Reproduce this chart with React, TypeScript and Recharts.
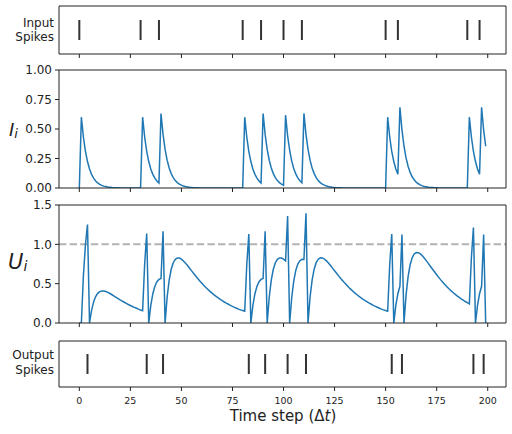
import React from "react";
import {
	LineChart,
	Line,
	ScatterChart,
	Scatter,
	XAxis,
	YAxis,
	ReferenceLine,
} from "recharts";

// synaptic current I_i, one value per time step (0..199)
const current = [
	0, 0.6, 0.432, 0.311, 0.224, 0.161, 0.116, 0.084, 0.06, 0.043,
	0.031, 0.022, 0.016, 0.012, 0.008, 0.006, 0.004, 0.003, 0.002, 0.002,
	0.001, 0.001, 0.001, 0, 0, 0, 0, 0, 0, 0,
	0, 0.6, 0.432, 0.311, 0.224, 0.161, 0.116, 0.084, 0.06, 0.043,
	0.631, 0.454, 0.327, 0.236, 0.17, 0.122, 0.088, 0.063, 0.046, 0.033,
	0.024, 0.017, 0.012, 0.009, 0.006, 0.005, 0.003, 0.002, 0.002, 0.001,
	0.001, 0, 0, 0, 0, 0, 0, 0, 0, 0,
	0, 0, 0, 0, 0, 0, 0, 0, 0, 0,
	0, 0.6, 0.432, 0.311, 0.224, 0.161, 0.116, 0.084, 0.06, 0.043,
	0.631, 0.454, 0.327, 0.236, 0.17, 0.122, 0.088, 0.063, 0.046, 0.033,
	0.024, 0.617, 0.444, 0.32, 0.23, 0.166, 0.119, 0.086, 0.062, 0.045,
	0.632, 0.455, 0.328, 0.236, 0.17, 0.122, 0.088, 0.063, 0.046, 0.033,
	0.024, 0.017, 0.012, 0.009, 0.006, 0.005, 0.003, 0.002, 0.002, 0.001,
	0.001, 0, 0, 0, 0, 0, 0, 0, 0, 0,
	0, 0, 0, 0, 0, 0, 0, 0, 0, 0,
	0, 0.6, 0.432, 0.311, 0.224, 0.161, 0.116, 0.684, 0.492, 0.354,
	0.255, 0.184, 0.132, 0.095, 0.069, 0.049, 0.036, 0.026, 0.018, 0.013,
	0.01, 0.007, 0.005, 0.004, 0.003, 0.002, 0.001, 0.001, 0, 0,
	0, 0, 0, 0, 0, 0, 0, 0, 0, 0,
	0, 0.6, 0.432, 0.311, 0.224, 0.161, 0.116, 0.684, 0.492, 0.354,
];

// membrane potential U_i, one value per time step (0..199)
const membrane = [
	0, 0, 0.6, 0.998, 1.252, 0, 0.161, 0.268, 0.336, 0.377,
	0.399, 0.407, 0.407, 0.4, 0.389, 0.375, 0.359, 0.343, 0.327, 0.31,
	0.294, 0.279, 0.264, 0.249, 0.235, 0.222, 0.21, 0.198, 0.187, 0.176,
	0.166, 0.157, 0.748, 1.137, 0, 0.224, 0.372, 0.467, 0.524, 0.554,
	0.566, 1.165, 0, 0.327, 0.544, 0.683, 0.766, 0.81, 0.827, 0.826,
	0.811, 0.789, 0.761, 0.73, 0.697, 0.663, 0.63, 0.598, 0.566, 0.535,
	0.506, 0.478, 0.451, 0.426, 0.402, 0.38, 0.358, 0.338, 0.319, 0.3,
	0.283, 0.267, 0.252, 0.238, 0.224, 0.211, 0.199, 0.188, 0.177, 0.167,
	0.158, 0.149, 0.74, 1.13, 0, 0.224, 0.372, 0.467, 0.524, 0.554,
	0.566, 1.165, 0, 0.327, 0.544, 0.683, 0.766, 0.81, 0.827, 0.826,
	0.811, 0.789, 1.361, 0, 0.32, 0.532, 0.668, 0.749, 0.792, 0.809,
	0.807, 1.394, 0, 0.328, 0.545, 0.684, 0.767, 0.811, 0.829, 0.827,
	0.813, 0.79, 0.762, 0.731, 0.698, 0.665, 0.632, 0.599, 0.567, 0.537,
	0.507, 0.479, 0.452, 0.427, 0.403, 0.38, 0.359, 0.338, 0.319, 0.301,
	0.284, 0.268, 0.252, 0.238, 0.224, 0.212, 0.2, 0.188, 0.177, 0.167,
	0.158, 0.149, 0.74, 1.13, 0, 0.224, 0.372, 0.467, 1.124, 0,
	0.354, 0.589, 0.74, 0.83, 0.878, 0.896, 0.894, 0.879, 0.854, 0.824,
	0.79, 0.755, 0.719, 0.683, 0.648, 0.613, 0.58, 0.548, 0.518, 0.489,
	0.462, 0.436, 0.411, 0.388, 0.366, 0.345, 0.326, 0.307, 0.29, 0.273,
	0.258, 0.243, 0.829, 1.214, 0, 0.224, 0.372, 0.467, 1.124, 0,
];

const inputSpikes = [0, 30, 39, 80, 89, 100, 109, 150, 156, 190, 196];
const outputSpikes = [4, 33, 41, 83, 91, 102, 111, 153, 158, 193, 198];

const timeTicks = [0, 25, 50, 75, 100, 125, 150, 175, 200];
const currentTicks = [0, 0.25, 0.5, 0.75, 1];
const membraneTicks = [0, 0.5, 1, 1.5];
const threshold = 1;

const W = 512;
const H = 434;
const xDomain: [number, number] = [-9.95, 208.95];
const ink = "#222";
const blue = "#1f77b4";

const traceRows = current.map((v, t) => ({ t, i: v, u: membrane[t] }));
const inRows = inputSpikes.map((t) => ({ t, y: 0 }));
const outRows = outputSpikes.map((t) => ({ t, y: 0 }));

const NoTick = () => <g />;

function SpikeMark(props: any) {
	const { cx, cy } = props;
	return (
		<line x1={cx} x2={cx} y1={cy - 10} y2={cy + 10} stroke="#333" strokeWidth={2} />
	);
}

// top and right spines, so each panel gets a closed box
function frameAxes() {
	return [
		<XAxis
			key="top"
			xAxisId="top"
			orientation="top"
			type="number"
			domain={xDomain}
			allowDataOverflow
			height={1}
			tick={false}
			tickLine={false}
			stroke={ink}
		/>,
		<YAxis
			key="right"
			yAxisId="right"
			orientation="right"
			type="number"
			domain={[0, 1]}
			width={1}
			tick={false}
			tickLine={false}
			stroke={ink}
		/>,
	];
}

function bottomAxis(height: number, labels: boolean, label?: any) {
	return (
		<XAxis
			dataKey="t"
			type="number"
			domain={xDomain}
			ticks={timeTicks}
			interval={0}
			allowDataOverflow
			height={height}
			tickSize={4}
			tickMargin={6}
			stroke={ink}
			tick={labels ? { fill: ink, fontSize: 9.5 } : NoTick}
			label={label}
		/>
	);
}

const inputLabel = () => (
	<text x={54} y={26.5} textAnchor="end" fontSize={12} fill={ink}>
		<tspan x={54} y={26.5}>Input</tspan>
		<tspan x={54} y={40.5}>Spikes</tspan>
	</text>
);

const outputLabel = () => (
	<text x={54} y={359} textAnchor="end" fontSize={12} fill={ink}>
		<tspan x={54} y={359}>Output</tspan>
		<tspan x={54} y={373.5}>Spikes</tspan>
	</text>
);

const currentLabel = () => (
	<text x={9} y={136} fontSize={18} fontStyle="italic" fill={ink}>
		I<tspan fontSize={13} dy={2}>i</tspan>
	</text>
);

const membraneLabel = () => (
	<text x={8} y={269} fontSize={21} fontStyle="italic" fill={ink}>
		U<tspan fontSize={14} dy={2}>i</tspan>
	</text>
);

const timeLabel = () => (
	<text x={283} y={421} textAnchor="middle" fontSize={15} fill={ink}>
		Time step (Δ<tspan fontStyle="italic">t</tspan>)
	</text>
);

const layer: React.CSSProperties = { position: "absolute", left: 0, top: 0 };

export default function App() {
	return (
		<div
			style={{
				position: "absolute",
				left: 0,
				top: 0,
				width: W,
				height: H,
				background: "#fff",
				fontFamily: "'DejaVu Sans', sans-serif",
			}}
		>
			<div style={layer}>
				<ScatterChart width={W} height={H} margin={{ top: 5, right: 5, bottom: 368, left: 0 }}>
					{bottomAxis(12, false)}
					<YAxis
						dataKey="y"
						type="number"
						domain={[-1, 1]}
						width={59}
						tick={false}
						tickLine={false}
						stroke={ink}
						label={{ content: inputLabel }}
					/>
					{frameAxes()}
					<Scatter data={inRows} shape={SpikeMark} isAnimationActive={false} />
				</ScatterChart>
			</div>

			<div style={layer}>
				<LineChart width={W} height={H} data={traceRows} margin={{ top: 69, right: 5, bottom: 234, left: 0 }}>
					{bottomAxis(12, false)}
					<YAxis
						type="number"
						domain={[0, 1]}
						ticks={currentTicks}
						interval={0}
						allowDataOverflow
						tickFormatter={(v: number) => v.toFixed(2)}
						tick={{ fill: ink, fontSize: 12 }}
						tickSize={4}
						tickMargin={3}
						width={59}
						stroke={ink}
						label={{ content: currentLabel }}
					/>
					{frameAxes()}
					<Line
						dataKey="i"
						type="linear"
						stroke={blue}
						strokeWidth={1.5}
						dot={false}
						activeDot={false}
						isAnimationActive={false}
					/>
				</LineChart>
			</div>

			<div style={layer}>
				<LineChart width={W} height={H} data={traceRows} margin={{ top: 204, right: 5, bottom: 99, left: 0 }}>
					{bottomAxis(12, false)}
					<YAxis
						type="number"
						domain={[0, 1.5]}
						ticks={membraneTicks}
						interval={0}
						allowDataOverflow
						tickFormatter={(v: number) => v.toFixed(1)}
						tick={{ fill: ink, fontSize: 12 }}
						tickSize={4}
						tickMargin={3}
						width={59}
						stroke={ink}
						label={{ content: membraneLabel }}
					/>
					{frameAxes()}
					<ReferenceLine y={threshold} stroke="#b3b3b3" strokeWidth={2} strokeDasharray="7.4 3.2" />
					<Line
						dataKey="u"
						type="linear"
						stroke={blue}
						strokeWidth={1.5}
						dot={false}
						activeDot={false}
						isAnimationActive={false}
					/>
				</LineChart>
			</div>

			<div style={layer}>
				<ScatterChart width={W} height={H} margin={{ top: 340, right: 5, bottom: 0, left: 0 }}>
					{bottomAxis(47, true, { content: timeLabel })}
					<YAxis
						dataKey="y"
						type="number"
						domain={[-1, 1]}
						width={59}
						tick={false}
						tickLine={false}
						stroke={ink}
						label={{ content: outputLabel }}
					/>
					{frameAxes()}
					<Scatter data={outRows} shape={SpikeMark} isAnimationActive={false} />
				</ScatterChart>
			</div>
		</div>
	);
}
